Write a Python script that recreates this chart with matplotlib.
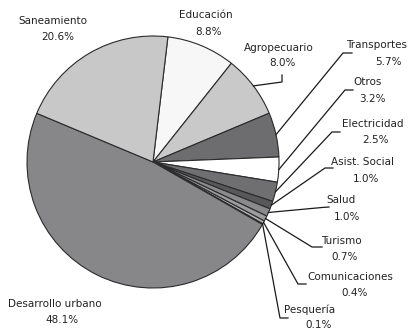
import numpy as np
import matplotlib
matplotlib.use('Agg')
import matplotlib.pyplot as plt

# datos del gráfico (porcentajes por sector)
labels = ['Educación', 'Agropecuario', 'Transportes', 'Otros', 'Electricidad',
          'Asist. Social', 'Salud', 'Turismo', 'Comunicaciones', 'Pesquería',
          'Desarrollo urbano', 'Saneamiento']
shares = [8.8, 8.0, 5.7, 3.2, 2.5, 1.0, 1.0, 0.7, 0.4, 0.1, 48.1, 20.6]
colors = ['#f7f7f7', '#c9c9c9', '#6d6d70', '#ffffff', '#6f6f72', '#58585b',
          '#8a8a8d', '#9c9c9e', '#b2b2b4', '#d0d0d0', '#87878a', '#c8c8c8']

# posiciones de texto (px desde arriba): nombre, porcentaje
name_pos = [(206, 15), (279, 48), (377, 45), (368, 82), (373, 124), (362, 162),
            (341, 200), (341, 241), (350, 277), (310, 310), (55, 304), (53, 21)]
pct_pos = [(208, 32), (282, 63), (388, 62), (372, 99), (375, 140), (366, 179),
           (347, 217), (345, 257), (355, 293), (319, 325), (62, 320), (58, 37)]
# quiebres de las líneas guía (None = sin línea)
elbows = [None, [(282, 82), (282, 75)], [(343, 53), (352, 53)], [(345, 90), (353, 90)],
          [(332, 132), (340, 132)], [(325, 168), (333, 168)], [(322, 207.5), (329, 207)],
          [(312, 247), (322, 247)], [(298, 284), (306, 284)], [(280, 318), (288, 318)],
          None, None]

W, H = 411, 331
cx, cy, R = 153, 162, 126
start = 83.2

fig = plt.figure(figsize=(W / 100, H / 100), dpi=100)
ax = fig.add_axes([0, 0, 1, 1])
wedges, _ = ax.pie(shares, colors=colors, startangle=start, counterclock=False,
                   center=(cx, H - cy), radius=R,
                   wedgeprops=dict(edgecolor='#2b2b2b', linewidth=0.8))
ax.set_xlim(0, W)
ax.set_ylim(0, H)
ax.set_aspect('equal')
ax.axis('off')

total = sum(shares)
cum = np.cumsum([0] + shares)
for i, lab in enumerate(labels):
    nx, ny = name_pos[i]
    px, py = pct_pos[i]
    ax.text(nx, H - ny, lab, ha='center', va='center', fontsize=7.5, color='#222222')
    ax.text(px, H - py, '%.1f%%' % shares[i], ha='center', va='center', fontsize=7.5,
            color='#222222')
    if elbows[i] is not None:
        mid = np.deg2rad(start - 360 * (cum[i] + shares[i] / 2) / total)
        xs = [cx + R * np.cos(mid)] + [p[0] for p in elbows[i]]
        ys = [H - cy + R * np.sin(mid)] + [H - p[1] for p in elbows[i]]
        ax.plot(xs, ys, color='#1a1a1a', lw=0.9, solid_joinstyle='miter')

plt.savefig('out.png', dpi=100, facecolor='white')
